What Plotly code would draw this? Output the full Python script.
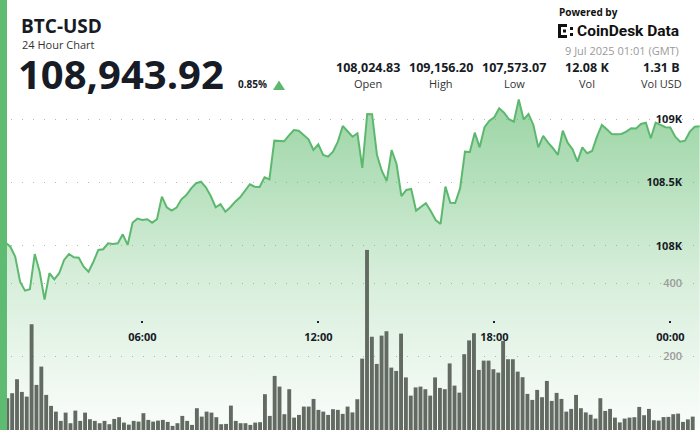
import plotly.graph_objects as go
import pandas as pd

# ---------------- data ----------------
prices = [108024.83, 107992, 107913, 107715, 107644, 107655, 107934, 107794, 107573.07, 107782,
          107734, 107782, 107887, 107934, 107908, 107905, 107834, 107794, 107873, 107966,
          107972, 108019, 108013, 108019, 108090, 108006, 108182, 108214, 108203, 108209,
          108182, 108209, 108388, 108304, 108277, 108301, 108367, 108401, 108454, 108494,
          108506, 108462, 108393, 108304, 108328, 108269, 108304, 108348, 108383, 108435,
          108486, 108467, 108465, 108541, 108525, 108831, 108828, 108826, 108873, 108915,
          108910, 108876, 108842, 108757, 108802, 108718, 108704, 108744, 108823, 108947,
          108900, 108862, 108889, 108615, 109042, 109040, 108718, 108591, 108512, 108757,
          108646, 108393, 108441, 108449, 108277, 108309, 108336, 108275, 108203, 108172,
          108467, 108340, 108338, 108453, 108744, 108741, 108894, 108778, 108937, 108989,
          109016, 109087, 109052, 109000, 108981, 109156.20, 108998, 109042, 108955, 108778,
          108868, 108815, 108771, 108718, 108910, 108815, 108763, 108665, 108778, 108731,
          108749, 108862, 108955, 108921, 108884, 108881, 108884, 108902, 108929, 108927,
          108963, 108973, 108850, 108973, 108955, 108937, 108935, 108862, 108823, 108831,
          108902, 108941, 108943.92]

volumes = [86.7, 100.3, 138.4, 103.8, 91.0, 288.3, 122.9, 172.8, 95.6, 65.7,
           50.1, 24.8, 47.4, 18.5, 52.9, 24.8, 47.4, 29.4, 24.8, 18.5,
           24.8, 15.8, 30.2, 34.9, 20.2, 14.7, 24.8, 22.9, 45.8, 27.5,
           22.9, 25.6, 27.5, 22.1, 11.2, 18.5, 38.4, 24.8, 13.9, 59.4,
           36.5, 50.1, 47.4, 34.9, 15.8, 16.6, 66.5, 24.8, 18.5, 18.5,
           13.9, 20.2, 21.3, 97.6, 38.4, 147.4, 118.3, 43.1, 111.2, 33.8,
           41.1, 63.8, 63.8, 84.7, 54.8, 50.1, 41.1, 56.7, 54.8, 43.9,
           63.8, 48.0, 83.9, 194.6, 490.8, 254.2, 180.1, 257.2, 269.2, 170.0,
           161.0, 262.7, 143.3, 93.7, 116.1, 118.3, 111.2, 93.7, 143.3, 114.7,
           111.2, 181.5, 121.0, 101.9, 206.6, 244.2, 263.8, 163.8, 189.1, 189.1,
           165.7, 156.4, 242.8, 192.9, 192.9, 159.1, 143.9, 98.4, 82.0, 109.3,
           89.4, 133.8, 79.3, 101.1, 84.7, 50.1, 57.5, 95.6, 59.4, 48.0,
           41.7, 31.1, 86.7, 52.0, 57.5, 33.8, 20.7, 31.1, 33.8, 34.9,
           62.9, 40.3, 57.5, 26.7, 25.6, 35.2, 35.7, 43.1, 44.7, 22.1,
           28.9, 36.5]

price_tick_vals = [108000, 108500, 109000]
price_tick_text = ["108K", "108.5K", "109K"]
vol_tick_vals = [200, 400]
vol_tick_text = ["200", "400"]
time_tick_vals = ["2025-07-08 06:00", "2025-07-08 12:00", "2025-07-08 18:00", "2025-07-09 00:00"]
time_tick_text = ["06:00", "12:00", "18:00", "00:00"]

stat_values = ["108,024.83", "109,156.20", "107,573.07", "12.08 K", "1.31 B"]
stat_labels = ["Open", "High", "Low", "Vol", "Vol USD"]

price_times = pd.date_range("2025-07-08 01:20", periods=len(prices), freq="10min")
vol_times = pd.date_range("2025-07-08 01:20", periods=len(volumes), freq="10min")

# ---------------- layout helpers ----------------
W, H = 700, 430
TOP = 95
PH = H - TOP


def px(x):
    return x / W


def py(y):
    return (H - y) / PH


FONT = "Open Sans"
DARK = "#161b26"
GREEN = "#5db86f"

PRICE_RANGE = [106542, 109192]
VOL_RANGE = [0, 913]

fig = go.Figure()

fig.add_trace(go.Scatter(
    x=price_times, y=prices, mode="lines",
    line=dict(color=GREEN, width=2),
    fill="tozeroy",
    fillgradient=dict(type="vertical",
                      colorscale=[[0, "rgba(90,185,105,0.03)"],
                                  [0.45, "rgba(90,185,105,0.24)"],
                                  [1, "rgba(90,185,105,0.62)"]],
                      start=PRICE_RANGE[0], stop=PRICE_RANGE[1]),
    hoverinfo="skip", showlegend=False,
))

fig.add_trace(go.Bar(
    x=vol_times, y=volumes, xaxis="x2", yaxis="y2",
    marker=dict(color="rgb(98,106,98)", line=dict(width=0)),
    hoverinfo="skip", showlegend=False,
))

grid_dash = "1px,10px"
LABEL_X = px(682)

fig.update_layout(
    width=W, height=H,
    margin=dict(l=0, r=0, t=TOP, b=0, pad=0),
    paper_bgcolor="white", plot_bgcolor="white",
    bargap=0.2,
    showlegend=False,
    xaxis=dict(
        type="date", automargin=False,
        range=["2025-07-08 01:08:54", "2025-07-09 01:00:45"],
        anchor="free", position=py(320), side="bottom",
        showgrid=False, zeroline=False, showline=False,
        ticks="outside", ticklen=2, tickwidth=2, tickcolor="#222",
        tickvals=time_tick_vals, ticktext=time_tick_text,
        tickfont=dict(family=FONT, size=11, color=DARK, weight=700),
        ticklabelstandoff=5, ticklabeloverflow="allow",
    ),
    yaxis=dict(
        range=PRICE_RANGE, side="left", anchor="free", position=LABEL_X,
        automargin=False, ticks="",
        tickvals=price_tick_vals, ticktext=price_tick_text,
        tickfont=dict(family=FONT, size=11, color=DARK, weight=700),
        showgrid=True, gridcolor="#b8b8b8", gridwidth=1, griddash=grid_dash,
        zeroline=False, showline=False,
    ),
    xaxis2=dict(
        type="date", overlaying="x", visible=False, automargin=False,
        range=["2025-07-08 01:05", "2025-07-09 01:05"],
    ),
    yaxis2=dict(
        range=VOL_RANGE, overlaying="y", side="left", anchor="free", position=LABEL_X,
        automargin=False, ticks="",
        tickvals=vol_tick_vals, ticktext=vol_tick_text,
        tickfont=dict(family=FONT, size=11, color="#9a9a9a", weight=600),
        showgrid=True, gridcolor="#b8b8b8", gridwidth=1, griddash=grid_dash,
        zeroline=False, showline=False,
    ),
)

ann = []


def text(x, y, s, size, color=DARK, weight=400, xanchor="left", family=FONT):
    ann.append(dict(x=px(x), y=py(y), xref="paper", yref="paper", text=s,
                    showarrow=False, xanchor=xanchor, yanchor="middle",
                    font=dict(family=family, size=size, color=color, weight=weight)))


text(19, 26, "BTC-USD", 19, weight=700)
text(20, 44, "24 Hour Chart", 11, color="#333")
text(16, 74, "108,943.92", 40, weight=700)
text(236, 84, "0.85%", 10, weight=700)

stat_x = [368, 441, 514, 587, 661]
for xv, v, l in zip(stat_x, stat_values, stat_labels):
    text(xv, 68, v, 12.5, weight=700, xanchor="center")
    text(xv, 83, l, 11, color="#333", xanchor="center")

text(557, 12, "Powered by", 10, weight=700, color="#111")
text(575, 31, "CoinDesk Data", 15.5, weight=700, color="#111", family="Roboto")
text(681, 51, "9 Jul 2025 01:01 (GMT)", 11, color="#9a9a9a", xanchor="right")

fig.update_layout(annotations=ann)

shapes = []
# left accent bar
shapes.append(dict(type="rect", xref="paper", yref="paper", x0=0, x1=px(7), y0=0, y1=py(0),
                   fillcolor="#5fbb72", line=dict(width=0), layer="above"))
# up triangle
shapes.append(dict(type="path", xref="paper", yref="paper",
                   path=f"M {px(273)},{py(90)} L {px(285)},{py(90)} L {px(279)},{py(80.5)} Z",
                   fillcolor=GREEN, line=dict(width=0), layer="above"))
# CoinDesk icon (simplified)
for (x0, y0, x1, y1) in [(558, 24, 561, 38), (558, 24, 567, 27), (558, 35, 567, 38),
                         (563, 29.5, 566, 32.5), (570, 27, 573, 30), (570, 33, 573, 36)]:
    shapes.append(dict(type="rect", xref="paper", yref="paper",
                       x0=px(x0), x1=px(x1), y0=py(y1), y1=py(y0),
                       fillcolor="#111", line=dict(width=0), layer="above"))
fig.update_layout(shapes=shapes)

fig.write_html("out.html", config=dict(displayModeBar=False),
               post_script="document.body.style.margin='0';document.body.style.overflow='hidden';")
